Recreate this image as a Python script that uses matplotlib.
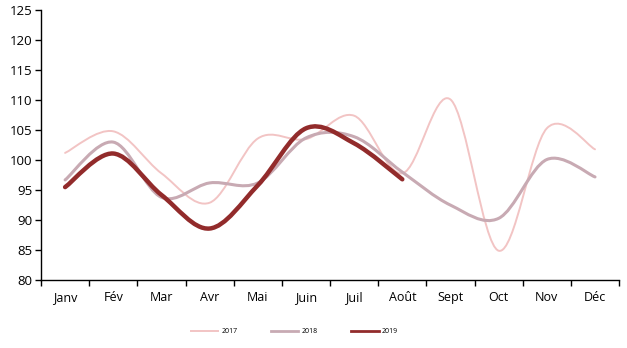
import numpy as np
import matplotlib
matplotlib.use("Agg")
import matplotlib.pyplot as plt
from matplotlib.path import Path
from matplotlib.patches import PathPatch
from matplotlib.lines import Line2D

plt.rcParams['font.family'] = ['Open Sans', 'DejaVu Sans']

months = ["Janv", "Fév", "Mar", "Avr", "Mai", "Juin", "Juil", "Août",
          "Sept", "Oct", "Nov", "Déc"]
y2017 = [101.2, 104.8, 97.8, 92.9, 103.6, 103.5, 107.4, 97.8, 110.1, 84.9, 105.3, 101.8]
y2018 = [96.7, 103.0, 93.8, 96.2, 96.2, 103.7, 103.9, 98.0, 92.5, 90.3, 100.1, 97.2]
y2019 = [95.5, 101.1, 94.2, 88.6, 95.8, 105.3, 102.8, 96.8]
years = ["2017", "2018", "2019"]
colors = ["#F2C4C4", "#C8AAB3", "#922B2B"]
widths = [1.4, 2.2, 3.2]

fig = plt.figure(figsize=(6.27, 3.48), dpi=100)
ax = fig.add_axes([0.0654, 0.195, 0.922, 0.776])


def smooth_path(xs, ys):
    """Cubic Bezier path through the points (Catmull-Rom style smoothing)."""
    pts = np.column_stack([xs, ys]).astype(float)
    n = len(pts)
    verts = [pts[0]]
    codes = [Path.MOVETO]
    for i in range(n - 1):
        p0 = pts[i - 1] if i > 0 else pts[i]
        p1 = pts[i]
        p2 = pts[i + 1]
        p3 = pts[i + 2] if i + 2 < n else pts[i + 1]
        c1 = p1 + (p2 - p0) / 6.0
        c2 = p2 - (p3 - p1) / 6.0
        verts += [c1, c2, p2]
        codes += [Path.CURVE4] * 3
    return Path(verts, codes)


series = [y2017, y2018, y2019]
for vals, col, lw in zip(series, colors, widths):
    xs = np.arange(len(vals))
    patch = PathPatch(smooth_path(xs, vals), facecolor="none", edgecolor=col,
                      lw=lw, capstyle="round", joinstyle="round")
    ax.add_patch(patch)

ax.set_xlim(-0.5, len(months) - 0.5)
ax.set_ylim(80, 125)
ax.set_yticks(np.arange(80, 126, 5))
ax.set_xticks(np.arange(len(months)))
ax.set_xticklabels(months)
ax.set_xticks(np.arange(-0.5, len(months), 1.0), minor=True)
ax.tick_params(axis="x", which="major", length=0, pad=8, labelsize=9)
ax.tick_params(axis="x", which="minor", length=4, width=1, direction="out")
ax.tick_params(axis="y", length=4, width=1, direction="out", labelsize=9.5, pad=2)

for s in ["top", "right"]:
    ax.spines[s].set_visible(False)
for s in ["left", "bottom"]:
    ax.spines[s].set_linewidth(1.0)
    ax.spines[s].set_color("black")

handles = [Line2D([], [], color=c, lw=min(lw, 2.0)) for c, lw in zip(colors, widths)]
fig.legend(handles, years, loc="center", bbox_to_anchor=(0.469, 0.046), ncol=3,
           frameon=False, fontsize=5, handlelength=4.0, handletextpad=0.4,
           columnspacing=4.8)

fig.savefig("out.png", dpi=100)
